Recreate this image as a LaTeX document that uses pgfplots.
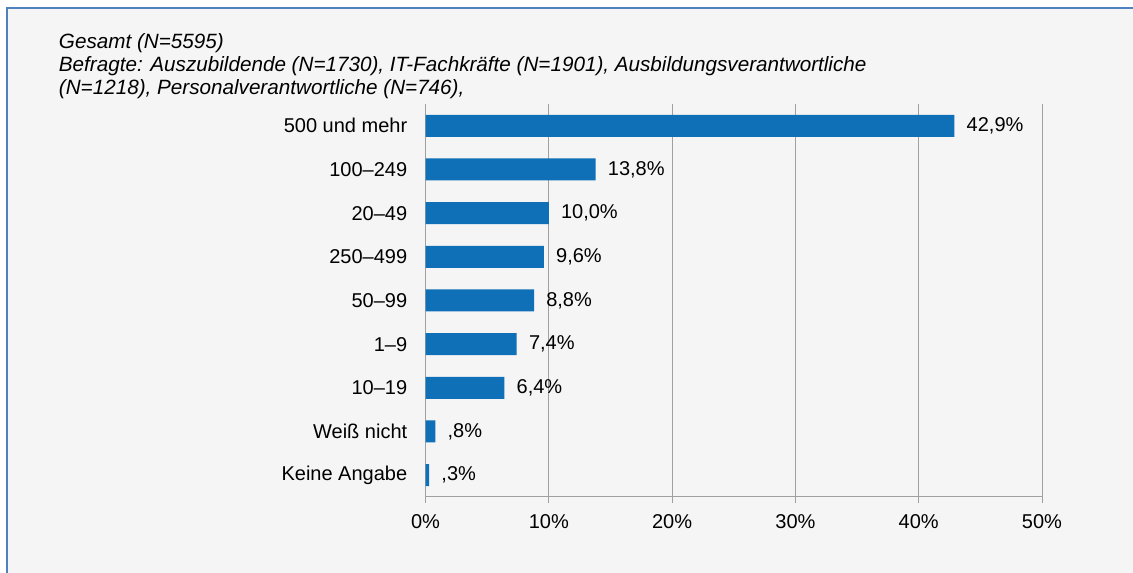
\documentclass[border=0pt]{standalone}
\usepackage{pgfplots}
\pgfplotsset{compat=1.18}
\usepackage{pgfplotstable}
\usepackage{fontspec}
\setmainfont{Liberation Sans}
\definecolor{barblue}{HTML}{0F6FB7}
\definecolor{bg}{HTML}{F5F5F5}
\definecolor{framec}{HTML}{4F81BD}
\definecolor{gridgray}{HTML}{A0A0A0}

\pgfplotstableread{
y x lab
8 42.9 42,9
7 13.8 13,8
6 10.0 10,0
5 9.6 9,6
4 8.8 8,8
3 7.4 7,4
2 6.4 6,4
1 0.8 ,8
0 0.3 ,3
}\datatable

\newcommand{\titleline}[1]{{\fontsize{15.5pt}{18pt}\selectfont\itshape #1}}

\begin{document}
\fontsize{15pt}{18pt}\selectfont
\begin{tikzpicture}
\path[use as bounding box] (0,0) rectangle (849.75pt,-429.75pt);
\clip (0,0) rectangle (849.75pt,-429.75pt);
\fill[white] (0,0) rectangle (849.75pt,-429.75pt);
\fill[bg] (5.25pt,-6pt) rectangle (860pt,-440pt);
\draw[framec, line width=1.7pt] (5.25pt,-6pt) rectangle (860pt,-440pt);
\node[anchor=base west, inner sep=0pt] at (44pt,-36.75pt) {\titleline{Gesamt (N=5595)}};
\node[anchor=base west, inner sep=0pt] at (44pt,-54pt) {\titleline{Befragte: Auszubildende (N=1730), IT-Fachkräfte (N=1901), Ausbildungsverantwortliche}};
\node[anchor=base west, inner sep=0pt] at (44pt,-71.25pt) {\titleline{(N=1218), Personalverantwortliche (N=746),}};
\begin{axis}[
  at={(319.125pt,-372.75pt)}, anchor=south west,
  scale only axis, width=462.375pt, height=294.75pt,
  xmin=0, xmax=50, ymin=-0.5, ymax=8.5,
  axis x line*=bottom, axis y line*=left,
  axis line style={gridgray, line width=0.75pt},
  xtick={0,10,...,50},
  xmajorgrids,
  grid style={gridgray, line width=0.75pt},
  tick align=outside,
  major tick length=4.5pt,
  minor tick length=3.75pt,
  xtick style={gridgray, line width=0.75pt},
  ytick={0,...,8},
  ytick style={draw=none},
  minor ytick={-0.5,0.5,...,8.5},
  minor tick style={gridgray, line width=0.75pt},
  yticklabels={Keine Angabe, Weiß nicht, 10–19, 1–9, 50–99, 250–499, 20–49, 100–249, 500 und mehr},
  yticklabel style={anchor=east, inner sep=0pt, xshift=-9pt, font=\fontsize{15pt}{18pt}\selectfont},
  xticklabel={\pgfmathprintnumber{\tick}\%},
  xticklabel style={anchor=north, inner sep=0pt, yshift=-8.25pt, font=\fontsize{15pt}{18pt}\selectfont},
  /pgf/number format/assume math mode=true,
  xbar, bar width=16.5pt,
  point meta=explicit symbolic,
  nodes near coords={\pgfplotspointmeta\%},
  nodes near coords style={anchor=west, inner sep=0pt, xshift=9pt, text=black, font=\fontsize{15pt}{18pt}\selectfont},
]
\addplot[fill=barblue, draw=none] table[x=x, y=y, meta=lab]{\datatable};
\end{axis}
\end{tikzpicture}
\end{document}
